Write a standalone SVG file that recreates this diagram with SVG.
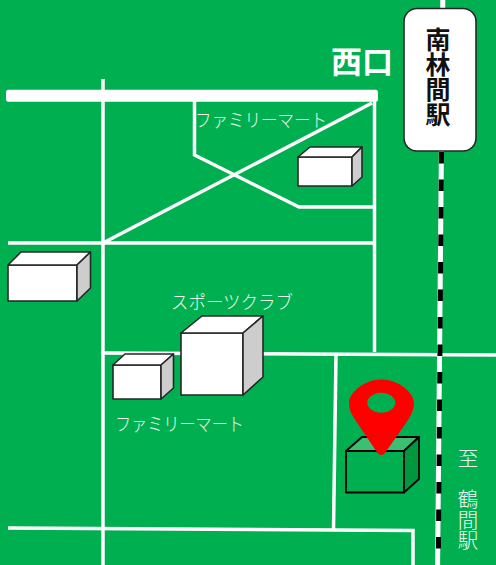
<svg xmlns="http://www.w3.org/2000/svg" width="496" height="565" viewBox="0 0 496 565">
<style>
.road{fill:none;stroke:#fff;stroke-width:3.5;stroke-linejoin:miter}
.b{stroke:#262626;stroke-width:1.6;stroke-linejoin:round}
.f{fill:#fff}.s{fill:#cdcdcd}
.g{stroke:#000;stroke-width:1.8;stroke-linejoin:round}
text{font-family:"Noto Sans CJK JP","Noto Sans",sans-serif}
.lbl{fill:#f0f8f0;font-size:18.500px;font-weight:300}
.sta{fill:#111;font-size:25px;font-weight:700;writing-mode:vertical-rl;text-orientation:upright}
.to{fill:#f0f8f0;font-size:20.500px;font-weight:300;writing-mode:vertical-rl;text-orientation:upright}
</style>
<rect width="496" height="565" fill="#00b050"/>
<g id="connectors">
<path class="road" d="M103 79V565"/>
<path class="road" d="M374.500 95V352"/>
<path class="road" d="M194.500 95V155L299 207H374"/>
<path class="road" d="M103 243L372 103"/>
<path class="road" d="M8 243H374"/>
<path class="road" d="M101 353L300 354L496 355"/>
<path class="road" d="M336 355L333.500 530"/>
<path class="road" d="M8 528L413 530.500V565"/>
<rect x="6" y="89.800" width="372" height="12" rx="2.500" fill="#fff"/>
<path d="M442.800 0L437.600 565" stroke="#fff" stroke-width="5" fill="none"/>
<path d="M441.500 152L438.400 552" stroke="#000" stroke-width="5" stroke-dasharray="11.500 16" fill="none"/>
</g>
<g id="station">
<rect x="404" y="8.500" width="72" height="142.500" rx="13" fill="#fff" stroke="#262626" stroke-width="1.600"/>
<text class="sta" x="438" y="26.500">南林間駅</text>
</g>
<g id="west-exit"><text x="331" y="73" fill="#fff" font-size="31" font-weight="700">西口</text></g>
<g id="building-familymart-north">
<path class="b f" d="M298 157H352V186H298Z"/>
<path class="b f" d="M298 157L310 147H362L352 157Z"/>
<path class="b s" d="M352 157L362 147V177L352 186Z"/>
<text class="lbl" x="195" y="127" textLength="132" lengthAdjust="spacingAndGlyphs">ファミリーマート</text>
</g>
<g id="building-west">
<path class="b f" d="M8 265H77V301H8Z"/>
<path class="b f" d="M8 265L21 252H90.500L77 265Z"/>
<path class="b s" d="M77 265L90.500 252V288L77 301Z"/>
</g>
<g id="building-sports">
<path class="b f" d="M181 333H243V395H181Z"/>
<path class="b f" d="M181 333L202 316H263L243 333Z"/>
<path class="b s" d="M243 333L263 316V377L243 395Z"/>
<text class="lbl" x="171" y="309" textLength="122" lengthAdjust="spacingAndGlyphs">スポーツクラブ</text>
</g>
<g id="building-familymart-south">
<path class="b f" d="M113 365H161V399H113Z"/>
<path class="b f" d="M113 365L125 354H173.500L161 365Z"/>
<path class="b s" d="M161 365L173.500 354V388L161 399Z"/>
<text class="lbl" x="115" y="431" textLength="129" lengthAdjust="spacingAndGlyphs">ファミリーマート</text>
</g>
<g id="destination">
<path class="g" fill="#00b050" d="M346 451H404V492.500H346Z"/>
<path class="g" fill="#3dbf72" d="M346 451L362 437H419L404 451Z"/>
<path class="g" fill="#00973f" d="M404 451L419 437V479L404 492.500Z"/>
<path fill="#f00" fill-rule="evenodd" d="M381.300 379.500C399 379.500 414 393 414 403C414 411 410 417 406 423L385 453Q381.300 457 377.500 453L356 421C352 415 349 410 349 403C349 393 364 379.500 381.300 379.500ZM381.300 392.700A14 10 0 1 0 381.300 412.700A14 10 0 1 0 381.300 392.700Z"/>
</g>
<g id="to-tsuruma">
<text class="to" x="468" y="448">至</text>
<text class="to" x="468" y="489">鶴間駅</text>
</g>
</svg>
